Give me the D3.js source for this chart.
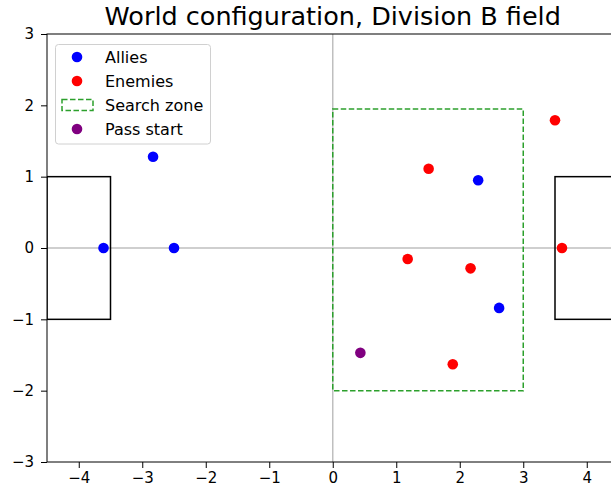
<!DOCTYPE html>
<html><head><meta charset="utf-8">
<script src="https://cdn.jsdelivr.net/npm/d3@7"></script>
<style>body{margin:0;background:#fff;} svg{display:block;font-family:"DejaVu Sans",sans-serif;}</style>
</head><body>
<svg id="chart" width="611" height="491"></svg>
<script>
const title = "World configuration, Division B field";
const xDomain = [-4.5, 4.5];
const yDomain = [-3, 3];
const xTicks = [-4, -3, -2, -1, 0, 1, 2, 3, 4];
const yTicks = [-3, -2, -1, 0, 1, 2, 3];
const alliesX = [-2.83, -3.61, -2.50, 2.29, 2.62];
const alliesY = [1.28, 0.0, 0.0, 0.95, -0.84];
const enemiesX = [3.50, 1.51, 1.18, 2.17, 3.61, 1.89];
const enemiesY = [1.79, 1.11, -0.155, -0.285, 0.0, -1.63];
const passX = [0.435];
const passY = [-1.47];
const zone = {x0: 0, x1: 3, y0: -2, y1: 1.95};
const goals = [{x0: -4.5, x1: -3.5, y0: -1, y1: 1}, {x0: 3.5, x1: 4.5, y0: -1, y1: 1}];
const legendLabels = ["Allies", "Enemies", "Search zone", "Pass start"];

const m = {left: 47, top: 34, width: 571.5, height: 428};
const svg = d3.select("#chart");
const x = d3.scaleLinear().domain(xDomain).range([m.left, m.left + m.width]);
const y = d3.scaleLinear().domain(yDomain).range([m.top + m.height, m.top]);

const defs = svg.append("defs");
defs.append("clipPath").attr("id", "clip").append("rect")
  .attr("x", m.left).attr("y", m.top).attr("width", m.width).attr("height", m.height);
const g = svg.append("g").attr("clip-path", "url(#clip)");

// center lines
g.append("line").attr("x1", x(0)).attr("x2", x(0)).attr("y1", y(yDomain[0])).attr("y2", y(yDomain[1]))
  .attr("stroke", "#bfbfbf").attr("stroke-width", 1.5);
g.append("line").attr("x1", x(xDomain[0])).attr("x2", x(xDomain[1])).attr("y1", y(0)).attr("y2", y(0))
  .attr("stroke", "#bfbfbf").attr("stroke-width", 1.5);

// goals
g.selectAll(".goal").data(goals).join("rect").attr("class", "goal")
  .attr("x", d => x(d.x0)).attr("y", d => y(d.y1))
  .attr("width", d => x(d.x1) - x(d.x0)).attr("height", d => y(d.y0) - y(d.y1))
  .attr("fill", "none").attr("stroke", "black").attr("stroke-width", 1.5);

// zone
g.append("rect").attr("x", x(zone.x0)).attr("y", y(zone.y1))
  .attr("width", x(zone.x1) - x(zone.x0)).attr("height", y(zone.y0) - y(zone.y1))
  .attr("fill", "none").attr("stroke", "#2ca02c").attr("stroke-width", 1.5).attr("stroke-dasharray", "5.5,2.5");

const r = 5.3;
function pts(xs, ys, color) {
  g.append("g").selectAll("circle").data(xs.map((v, i) => [v, ys[i]])).join("circle")
    .attr("cx", d => x(d[0])).attr("cy", d => y(d[1])).attr("r", r).attr("fill", color);
}
pts(alliesX, alliesY, "blue");
pts(enemiesX, enemiesY, "red");
pts(passX, passY, "purple");

// axes
const fmt = d => d < 0 ? "\u2212" + Math.abs(d) : d;
const xAxis = d3.axisBottom(x).tickValues(xTicks).tickSize(6).tickPadding(4).tickFormat(fmt);
const yAxis = d3.axisLeft(y).tickValues(yTicks).tickSize(6).tickPadding(7).tickFormat(fmt);
const gx = svg.append("g").attr("transform", `translate(0,${m.top + m.height})`).call(xAxis);
const gy = svg.append("g").attr("transform", `translate(${m.left},0)`).call(yAxis);
[gx, gy].forEach(a => {
  a.select(".domain").remove();
  a.selectAll("text").attr("font-size", 15).attr("fill", "#000").attr("font-family", "DejaVu Sans");
  a.selectAll("line").attr("stroke", "#000").attr("stroke-width", 1);
});
// spines
svg.append("rect").attr("x", m.left).attr("y", m.top).attr("width", m.width).attr("height", m.height)
  .attr("fill", "none").attr("stroke", "#000").attr("stroke-width", 1);

// title
svg.append("text").attr("x", m.left + m.width / 2).attr("y", 25).attr("text-anchor", "middle")
  .attr("font-size", 25.5).attr("fill", "#000").text(title);

// legend
const lg = svg.append("g");
lg.append("rect").attr("x", 55.5).attr("y", 44.5).attr("width", 155).attr("height", 99.5).attr("rx", 3)
  .attr("fill", "white").attr("fill-opacity", 0.8).attr("stroke", "#d0d0d0").attr("stroke-width", 1);
const ly = [57, 81, 105, 129];
lg.append("circle").attr("cx", 77).attr("cy", ly[0]).attr("r", r).attr("fill", "blue");
lg.append("circle").attr("cx", 77).attr("cy", ly[1]).attr("r", r).attr("fill", "red");
lg.append("rect").attr("x", 62).attr("y", ly[2] - 5.5).attr("width", 31).attr("height", 11)
  .attr("fill", "none").attr("stroke", "#2ca02c").attr("stroke-width", 1.5).attr("stroke-dasharray", "5.5,2.5");
lg.append("circle").attr("cx", 77).attr("cy", ly[3]).attr("r", r).attr("fill", "purple");
lg.selectAll("text.l").data(legendLabels).join("text").attr("class", "l")
  .attr("x", 105).attr("y", (d, i) => ly[i]).attr("dy", "0.35em")
  .attr("font-size", 16).attr("fill", "#000").text(d => d);
</script>
</body></html>
